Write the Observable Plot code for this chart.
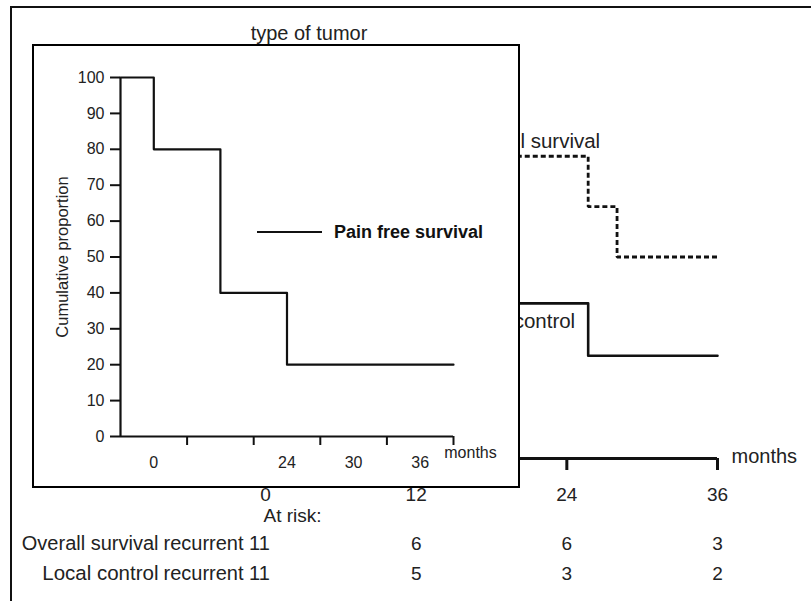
<!DOCTYPE html>
<html><head><meta charset="utf-8">
<script src="https://cdn.jsdelivr.net/npm/d3@7"></script>
<script src="https://cdn.jsdelivr.net/npm/@observablehq/plot@0.6"></script>
<style>
html,body{margin:0;padding:0;background:#fff;overflow:hidden;width:811px;height:601px;}
#root{position:relative;width:811px;height:601px;font-family:"Liberation Sans",Arial,sans-serif;color:#222;}
.abs{position:absolute;}
#bg{left:0;top:0;}
#frame{left:10px;top:6px;width:900px;height:700px;border:2px solid #111;}
#title{left:189px;width:240px;top:21px;text-align:center;font-size:20px;line-height:24px;color:#222;}
#inset{left:32px;top:44px;width:484px;height:440px;border:2px solid #000;background:#fff;}
#inset svg{display:block;}
#legend{left:257px;top:221px;display:flex;align-items:center;font-weight:bold;font-size:18px;line-height:22px;color:#111;}
#legend span{display:inline-block;width:65px;border-top:2px solid #111;margin-right:12px;}
</style></head><body><div id="root"></div>
<script>
// ---------- background chart (months) ----------
const bgTicks = [0, 12, 24, 36];
const overallTimes = [0, 7, 25.7, 28, 36];
const overallValues = [100, 75, 62.5, 50, 50];
const localTimes = [0, 4, 10, 25.7, 36];
const localValues = [100, 70, 38.5, 25.5, 25.5];
const riskTimes = [12, 24, 36];
const riskOverall = [6, 6, 3];
const riskLocal = [5, 3, 2];
const rowNames = ["Overall survival", "Local control"];
const rowStart = ["recurrent 11", "recurrent 11"];
const titleText = "type of tumor";

// ---------- inset chart ----------
const insetTickPos = [1, 2, 3, 4, 5];
const insetLabelPos = [0.5, 2.5, 3.5, 4.5];
const insetLabels = ["0", "24", "30", "36"];
const insetYTicks = [0, 10, 20, 30, 40, 50, 60, 70, 80, 90, 100];
const painTimes = [0, 0.5, 1.5, 2.5, 5];
const painValues = [100, 80, 40, 20, 20];

const overall = overallTimes.map((t, i) => ({t, v: overallValues[i]}));
const local = localTimes.map((t, i) => ({t, v: localValues[i]}));
const pain = painTimes.map((t, i) => ({t, v: painValues[i]}));

const font = "Liberation Sans, Arial, sans-serif";
const ink = "#111", txt = "#222";

const bg = Plot.plot({
  width: 811, height: 601,
  marginLeft: 265, marginRight: 94, marginTop: 55, marginBottom: 143,
  x: {domain: [0, 36], axis: null}, y: {domain: [0, 100], axis: null},
  style: {fontFamily: font, fontSize: "19px", color: txt, background: "transparent", overflow: "visible"},
  marks: [
    Plot.line(overall, {x: "t", y: "v", curve: "step-after", stroke: ink, strokeWidth: 2.8, strokeDasharray: "5,3", strokeLinecap: "butt", strokeLinejoin: "miter"}),
    Plot.line(local, {x: "t", y: "v", curve: "step-after", stroke: ink, strokeWidth: 2.6}),
    Plot.text([rowNames[0]], {x: () => overallTimes[2], y: () => overallValues[1], dx: 12, dy: -15, textAnchor: "end", fill: txt, fontSize: 20.5}),
    Plot.text([rowNames[1]], {x: () => localTimes[3], y: () => localValues[2], dx: -13, dy: 18, textAnchor: "end", fill: txt, fontSize: 20.5}),
    Plot.ruleY([0], {stroke: ink, strokeWidth: 3}),
    Plot.axisX({ticks: bgTicks, tickSize: 12, strokeWidth: 3, stroke: ink, tickFormat: () => "", label: null}),
    Plot.text(bgTicks, {x: d => d, text: d => String(d), frameAnchor: "bottom", dy: 42, fill: txt, fontSize: 19}),
    Plot.text(["months"], {x: () => 36, frameAnchor: "bottom", dx: 14, dy: 4, textAnchor: "start", fill: txt, fontSize: 20}),
    Plot.text(["At risk:"], {x: () => 0, frameAnchor: "bottom", dx: -2, dy: 63, textAnchor: "start", fill: txt, fontSize: 19}),
    Plot.text([rowNames[0]], {x: () => 0, frameAnchor: "bottom", dx: -107, dy: 91, textAnchor: "end", fill: txt, fontSize: 20}),
    Plot.text([rowStart[0]], {x: () => 0, frameAnchor: "bottom", dx: -102, dy: 91, textAnchor: "start", fill: txt, fontSize: 20}),
    Plot.text(riskOverall, {x: (d, i) => riskTimes[i], text: d => String(d), frameAnchor: "bottom", dy: 91, fill: txt, fontSize: 19}),
    Plot.text([rowNames[1]], {x: () => 0, frameAnchor: "bottom", dx: -107, dy: 121, textAnchor: "end", fill: txt, fontSize: 20.5}),
    Plot.text([rowStart[1]], {x: () => 0, frameAnchor: "bottom", dx: -102, dy: 121, textAnchor: "start", fill: txt, fontSize: 20}),
    Plot.text(riskLocal, {x: (d, i) => riskTimes[i], text: d => String(d), frameAnchor: "bottom", dy: 121, fill: txt, fontSize: 19})
  ]
});

const inset = Plot.plot({
  width: 484, height: 440,
  marginLeft: 86, marginRight: 65, marginTop: 31, marginBottom: 50,
  x: {domain: [0, 5]}, y: {domain: [0, 100]},
  style: {fontFamily: font, fontSize: "16px", color: txt, background: "#fff", overflow: "visible"},
  marks: [
    Plot.axisY({ticks: insetYTicks, tickSize: 10, tickPadding: 6, strokeWidth: 2, stroke: ink, fontSize: 16, label: null}),
    Plot.axisX({ticks: insetTickPos, tickSize: 9, strokeWidth: 2, stroke: ink, tickFormat: () => "", label: null}),
    Plot.ruleX([0], {y1: 0, y2: 100, stroke: ink, strokeWidth: 2.2}),
    Plot.ruleY([0], {x1: 0, x2: 5, stroke: ink, strokeWidth: 2.2}),
    Plot.line(pain, {x: "t", y: "v", curve: "step-after", stroke: ink, strokeWidth: 2.2}),
    Plot.text(insetLabelPos, {x: d => d, text: (d, i) => insetLabels[i], frameAnchor: "bottom", dy: 31, fill: txt, fontSize: 16}),
    Plot.text(["months"], {x: () => 5, frameAnchor: "bottom", dx: 17, dy: 21, fill: txt, fontSize: 16}),
    Plot.text(["Cumulative proportion"], {frameAnchor: "left", textAnchor: "middle", dx: -58, rotate: -90, fill: txt, fontSize: 16.5})
  ]
});

const root = document.getElementById("root");
const bgWrap = document.createElement("div");
bgWrap.className = "abs"; bgWrap.id = "bg";
bgWrap.appendChild(bg);
root.appendChild(bgWrap);

const frame = document.createElement("div");
frame.className = "abs"; frame.id = "frame";
root.appendChild(frame);

const title = document.createElement("div");
title.className = "abs"; title.id = "title";
title.textContent = titleText;
root.appendChild(title);

const insetWrap = document.createElement("div");
insetWrap.className = "abs"; insetWrap.id = "inset";
insetWrap.appendChild(inset);
root.appendChild(insetWrap);

const legend = document.createElement("div");
legend.className = "abs"; legend.id = "legend";
legend.innerHTML = '<span></span>Pain free survival';
root.appendChild(legend);
</script></body></html>
